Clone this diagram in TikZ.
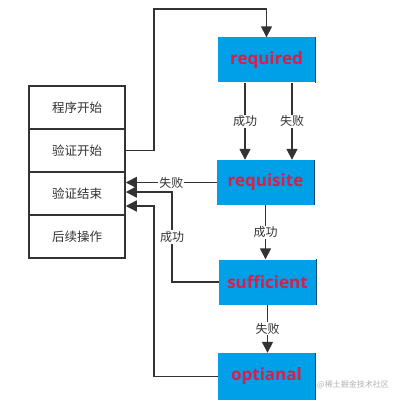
\documentclass[tikz,border=0pt]{standalone}
\usepackage{fontspec}
\setmainfont{Open Sans}
\newfontfamily\cjk{Noto Sans CJK SC}
\usetikzlibrary{arrows.meta}
\definecolor{boxblue}{RGB}{0,160,233}
\definecolor{boxedge}{RGB}{20,70,110}
\definecolor{txtred}{RGB}{214,32,74}
\definecolor{ln}{RGB}{51,51,51}
\begin{document}
\begin{tikzpicture}[x=1pt,y=-1pt,
  flow/.style={draw=ln, line width=1.6pt, -{Triangle[length=11pt,width=11pt]}},
  stage/.style={fill=boxblue, minimum width=97pt, minimum height=45pt, inner sep=0pt,
    font=\fontsize{17}{17}\selectfont\bfseries, text=txtred},
  cell/.style={draw=ln, line width=1.5pt, minimum width=96pt, minimum height=43pt, inner sep=0pt,
    font=\cjk\fontsize{12.5}{12.5}\selectfont, text=ln},
  lab/.style={fill=white, font=\cjk\fontsize{12}{12}\selectfont, text=ln, inner sep=1pt}]
\useasboundingbox (0,0) rectangle (404,401);
\fill[white] (0,0) rectangle (404,401);
% left stack
\node[cell] (c1) at (77,107.5) {程序开始};
\node[cell] (c2) at (77,150.5) {验证开始};
\node[cell] (c3) at (77,193.5) {验证结束};
\node[cell] (c4) at (77,236.5) {后续操作};
% stages
\node[stage] (req) at (266.5,60) {required};
\node[stage] (reqs) at (265.5,182.5) {requisite};
\node[stage] (suf) at (267.5,282) {sufficient};
\node[stage, minimum height=47pt] (opt) at (266.5,376.5) {optianal};
\foreach \n in {req,reqs,suf,opt}
  \draw[boxedge, line width=0.8pt] (\n.north east) -- (\n.south east);
% connectors
\coordinate (t1) at (154,9);
\draw[flow] (c2.east) -| (t1) -| (req.north);
\draw[flow] ([xshift=-21.5pt]req.south) -- ([xshift=-21.5pt]req.south |- reqs.north)
  node[lab, midway] {成功};
\draw[flow] ([xshift=25.5pt]req.south) -- ([xshift=25.5pt]req.south |- reqs.north)
  node[lab, midway] {失败};
\draw[flow] (reqs.west) -- (c3.east |- reqs.west) node[lab, midway] {失败};
\coordinate (k1) at (172,192);
\draw[flow] (suf.west) -| (k1) node[lab, pos=0.75] {成功} -- (c3.east |- k1);
\coordinate (k2) at (154,206);
\draw[flow] (opt.west) -| (k2) -- (c3.east |- k2);
\draw[flow] (reqs.south) -- (reqs.south |- suf.north) node[lab, midway] {成功};
\draw[flow] (suf.south) -- (suf.south |- opt.north) node[lab, midway] {失败};
% watermark
\node[font=\cjk\fontsize{8}{8}\selectfont, text=gray!60, anchor=west, inner sep=0pt] (wm) at (317,385) {@稀土掘金技术社区};
\end{tikzpicture}
\end{document}
